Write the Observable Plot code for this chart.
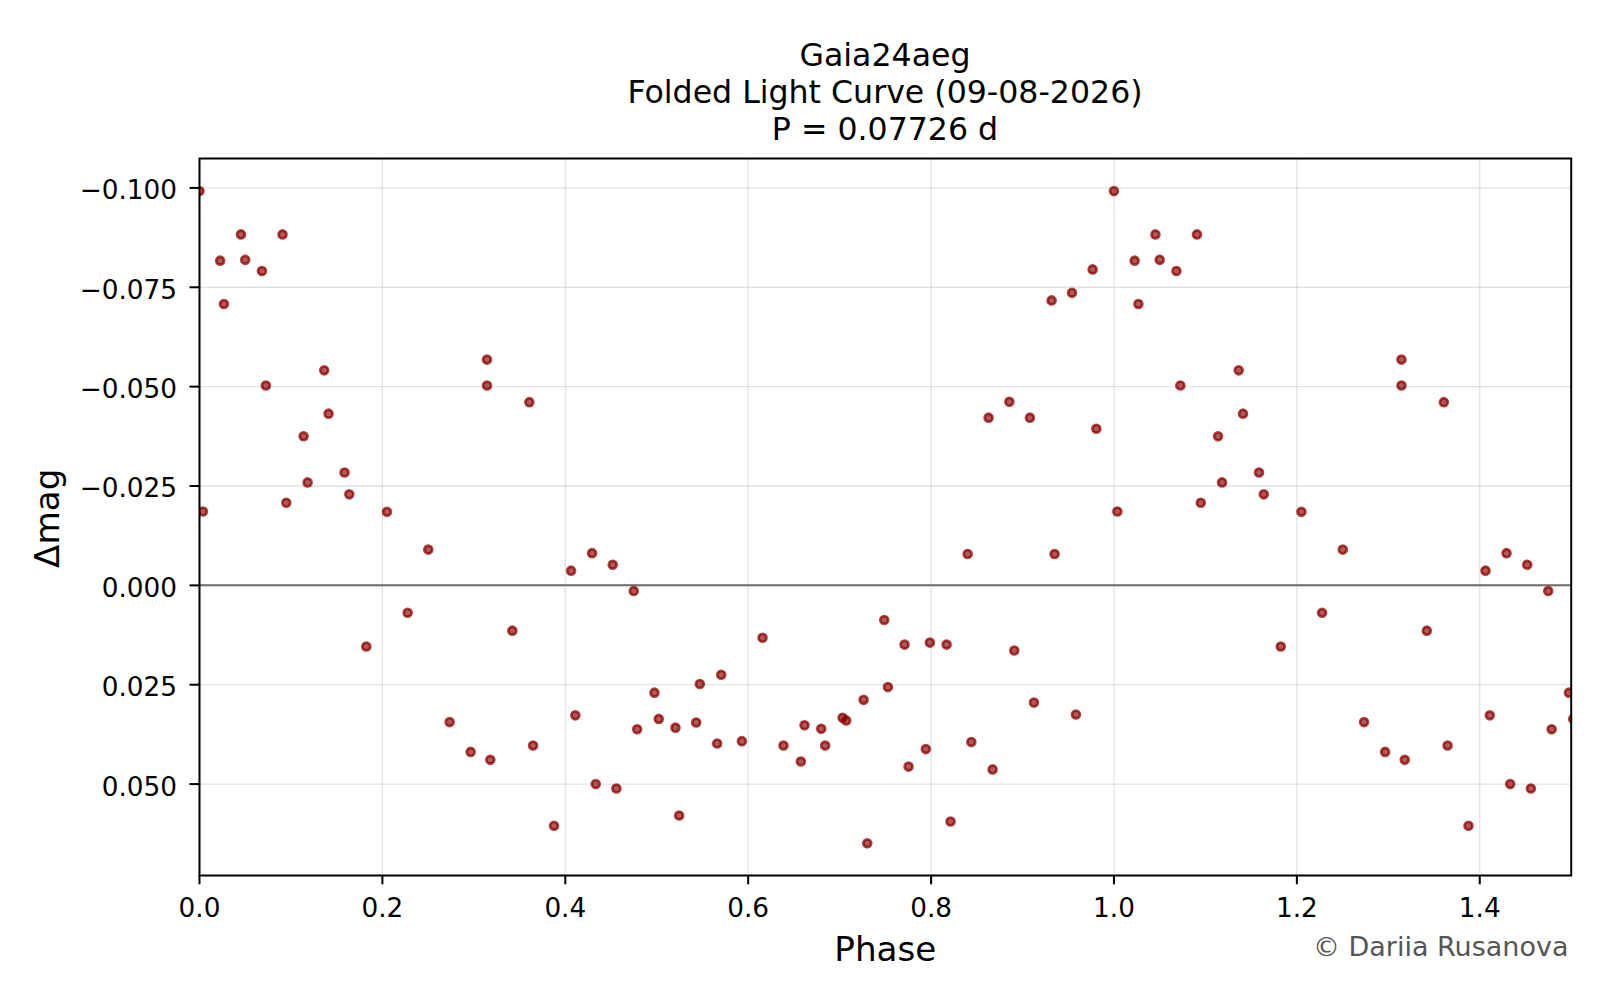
<!DOCTYPE html>
<html><head><meta charset="utf-8">
<script src="https://cdn.jsdelivr.net/npm/d3@7"></script>
<script src="https://cdn.jsdelivr.net/npm/@observablehq/plot@0.6"></script>
<style>
html,body{margin:0;padding:0;background:#fff;overflow:hidden}
#wrap{position:relative;width:1600px;height:1000px}
#title{position:absolute;left:199px;width:1372px;top:37px;text-align:center;font-family:"DejaVu Sans";font-size:31.6px;line-height:37.2px;color:#000}
#chart{position:absolute;left:0;top:150px}
</style></head>
<body><div id="wrap"><div id="title"></div><div id="chart"></div></div>
<script>
const titleLines = ["Gaia24aeg", "Folded Light Curve (09-08-2026)", "P = 0.07726 d"];
const xLabel = "Phase";
const yLabel = "Δmag";
const credit = "© Dariia Rusanova";
const xTicks = [0, 0.2, 0.4, 0.6, 0.8, 1.0, 1.2, 1.4];
const yTicks = [-0.1, -0.075, -0.05, -0.025, 0, 0.025, 0.05];

const phase = [
  0.0000, 0.0037, 0.0226, 0.0267, 0.0453, 0.0500, 0.0683, 0.0726, 0.0908, 0.0949,
  0.1138, 0.1182, 0.1364, 0.1411, 0.1586, 0.1638, 0.1824, 0.2050, 0.2276, 0.2502,
  0.2735, 0.2965, 0.3144, 0.3144, 0.3180, 0.3421, 0.3607, 0.3648, 0.3877, 0.4063,
  0.4110, 0.4293, 0.4333, 0.4519, 0.4559, 0.4749, 0.4786, 0.4975, 0.5022, 0.5205,
  0.5245, 0.5431, 0.5471, 0.5661, 0.5705, 0.5931, 0.6157, 0.6386, 0.6576, 0.6616,
  0.6799, 0.6842, 0.7032, 0.7072, 0.7262, 0.7302, 0.7488, 0.7528, 0.7710, 0.7754,
  0.7943, 0.7987, 0.8170, 0.8213, 0.8400, 0.8440, 0.8629, 0.8673, 0.8856, 0.8910,
  0.9081, 0.9125, 0.9318, 0.9351, 0.9541, 0.9584, 0.9767, 0.9807
];
const dmag = [
  -0.0992, -0.0186, -0.0817, -0.0708, -0.0883, -0.0819, -0.0791, -0.0503, -0.0883, -0.0208,
  -0.0375, -0.0259, -0.0541, -0.0432, -0.0284, -0.0229, 0.0154, -0.0185, 0.0069, -0.0090,
  0.0344, 0.0419, -0.0568, -0.0503, 0.0439, 0.0114, -0.0461, 0.0403, 0.0605, -0.0037,
  0.0327, -0.0081, 0.0500, -0.0052, 0.0511, 0.0014, 0.0362, 0.0270, 0.0336, 0.0358,
  0.0579, 0.0345, 0.0248, 0.0398, 0.0225, 0.0392, 0.0132, 0.0403, 0.0443, 0.0352,
  0.0361, 0.0403, 0.0333, 0.0340, 0.0288, 0.0649, 0.0087, 0.0256, 0.0149, 0.0456,
  0.0412, 0.0144, 0.0149, 0.0594, -0.0079, 0.0394, -0.0422, 0.0463, -0.0462, 0.0164,
  -0.0422, 0.0295, -0.0717, -0.0079, -0.0736, 0.0325, -0.0795, -0.0394
];

document.getElementById("title").innerHTML = titleLines.map(t => `<div>${t}</div>`).join("");

const pts = phase.map((p, i) => ({phase: p, dmag: dmag[i]}));
// folded curve is shown over 1.5 cycles: the same observations repeated at phase + 1
const folded = pts.concat(pts.map(d => ({phase: d.phase + 1, dmag: d.dmag})));

const chart = Plot.plot({
  width: 1600, height: 850,
  marginLeft: 199, marginRight: 29.3, marginTop: 8, marginBottom: 125,
  style: {fontFamily: "DejaVu Sans", fontSize: "26.3px", background: "white", color: "black", overflow: "visible"},
  x: {domain: [0, 1.5]},
  y: {domain: [-0.1074, 0.0730], reverse: true},
  marks: [
    Plot.gridX(xTicks, {stroke: "#b0b0b0", strokeOpacity: 0.35, strokeWidth: 1.3}),
    Plot.gridY(yTicks, {stroke: "#b0b0b0", strokeOpacity: 0.35, strokeWidth: 1.3}),
    Plot.ruleY([0], {stroke: "#6a6a6a", strokeWidth: 2}),
    Plot.dot(folded, {x: "phase", y: "dmag", r: 3.9, fill: "#8b0000", fillOpacity: 0.65, stroke: "#8b0000", strokeOpacity: 0.72, strokeWidth: 2.8, clip: true}),
    Plot.frame({stroke: "black", strokeWidth: 2}),
    Plot.axisX(xTicks, {tickSize: 9.3, tickPadding: 14, tickFormat: d3.format(".1f"), strokeWidth: 2, fontSize: 26.3, label: null}),
    Plot.axisY(yTicks, {tickSize: 9.5, tickFormat: () => "", strokeWidth: 2, label: null}),
    Plot.axisY(yTicks, {tickSize: 0, tickPadding: 22.5, dy: 3, tickFormat: d3.format(".3f"), fontSize: 26.3, label: null}),
    Plot.text([xLabel], {frameAnchor: "bottom", dy: 75, fontSize: 34.2, lineAnchor: "middle", fill: "black"}),
    Plot.text([yLabel], {frameAnchor: "left", dx: -151, dy: 51, rotate: -90, fontSize: 34.2, lineAnchor: "middle", fill: "black"}),
    Plot.text([credit], {frameAnchor: "bottom-right", textAnchor: "end", dx: -2.7, dy: 71.4, fontSize: 27, fill: "#555", lineAnchor: "middle"})
  ]
});
document.getElementById("chart").appendChild(chart);
</script></body></html>
